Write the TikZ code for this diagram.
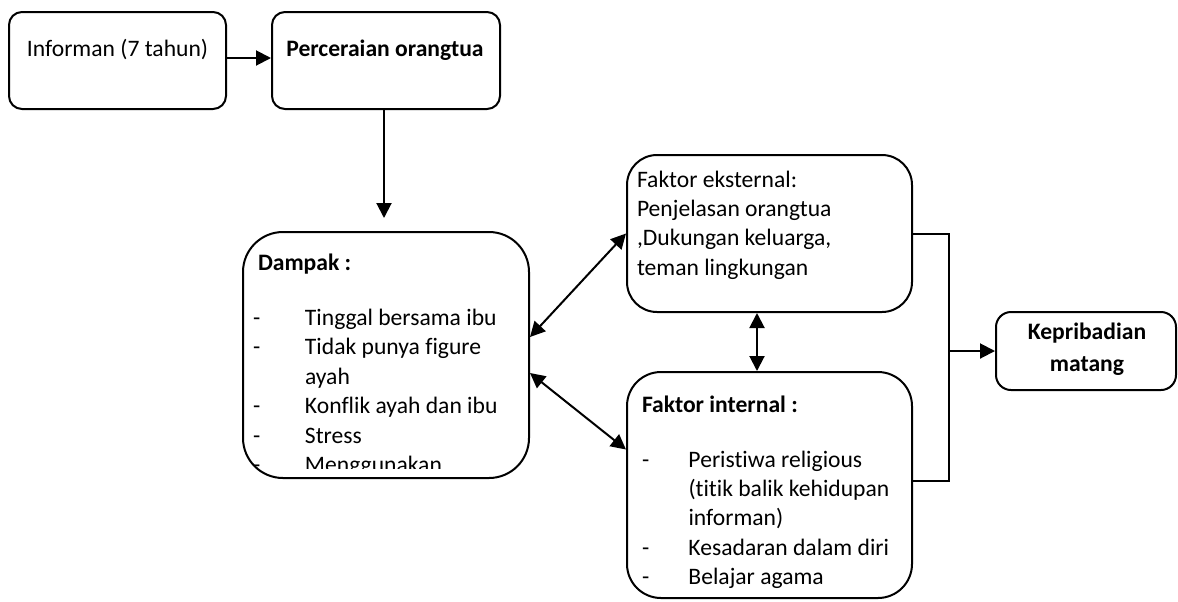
\documentclass[tikz,border=0pt]{standalone}
\usepackage{fontspec}
\setmainfont{Carlito}[Ligatures=NoCommon]
\usepackage{tikz}
\usetikzlibrary{arrows.meta}

\newcommand{\dashline}[2]{\makebox[#1][l]{-}#2}
\newcommand{\indentline}[2]{\hspace*{#1}#2}

\begin{document}
\begin{tikzpicture}[x=0.5pt,y=-0.5pt,line width=1pt,>={Triangle[length=7.5pt,width=7.5pt]}]
  \tikzstyle{every node}=[inner sep=0pt,font=\fontsize{11.8}{14.6}\selectfont]
  \tikzstyle{box}=[draw=black,rounded corners=6.5pt]
  \tikzstyle{txt}=[align=left,anchor=north west]
  \useasboundingbox (0,0) rectangle (1178,601);

  \node [box,minimum width=108.5pt,minimum height=48.5pt] (inf) at (117.5,60.5) {};
  \node [box,minimum width=114pt,minimum height=48.5pt]   (cer) at (386,60.5)   {};
  \node [box,rounded corners=20pt,minimum width=143pt,minimum height=123pt] (dam) at (386,355) {};
  \node [box,rounded corners=15pt,minimum width=142.5pt,minimum height=78.5pt] (eks) at (769.5,233.5) {};
  \node [box,rounded corners=17pt,minimum width=142.5pt,minimum height=113pt] (int) at (769.5,485) {};
  \node [box,rounded corners=7.5pt,minimum width=90pt,minimum height=39pt] (kep) at (1086,351) {};

  \node [anchor=north] at (117.5,34.6) {\strut Informan (7 tahun)};
  \node [anchor=north,font=\fontsize{11.8}{14.6}\selectfont\bfseries] at (385,34.6) {\strut Perceraian orangtua};
  \begin{scope}
    \clip (243,232) rectangle (529,468);
    \node [txt,font=\fontsize{11.8}{14.75}\selectfont] at (252,248.4) {\strut\hspace*{2.5pt}\textbf{Dampak :}\\[12.75pt]
      \dashline{26pt}{Tinggal bersama ibu}\\
      \dashline{26pt}{Tidak punya figure}\\
      \indentline{26pt}{ayah}\\
      \dashline{26pt}{Konflik ayah dan ibu}\\
      \dashline{26pt}{Stress}\\
      \dashline{26pt}{Menggunakan}};
  \end{scope}
  \node [txt] at (636,166) {\strut Faktor eksternal:\\
    Penjelasan orangtua\\
    ,Dukungan keluarga,\\
    teman lingkungan};
  \node [txt] at (641,391) {\strut\textbf{Faktor internal :}\\[12.9pt]
    \dashline{23.25pt}{Peristiwa religious}\\
    \indentline{23.25pt}{(titik balik kehidupan}\\
    \indentline{23.25pt}{informan)}\\
    \dashline{23.25pt}{Kesadaran dalam diri}\\
    \dashline{23.25pt}{Belajar agama}};
  \node [anchor=north,align=center,font=\fontsize{11.8}{14.6}\selectfont\bfseries] at (1087,317.6) {\strut Kepribadian\\[1.4pt] matang};

  \coordinate (damtop) at (384,218);
  \coordinate (join) at (949,351);

  \draw [->] ([yshift=1.25pt]inf.east) -- ([yshift=1.25pt]cer.west);
  \draw [->] (cer.south -| damtop) -- (damtop);
  \draw [<->] ([yshift=9pt]dam.east) -- (eks.west);
  \draw [<->] ([yshift=-9pt]dam.east) -- ([yshift=17.75pt]int.west);
  \draw [<->] ([xshift=-6.25pt]eks.south) -- ([xshift=-6.25pt]int.north);
  \draw (eks.east) -| (join) |- ([yshift=2.25pt]int.east);
  \draw [->] (join) -- (kep.west);
\end{tikzpicture}
\end{document}
